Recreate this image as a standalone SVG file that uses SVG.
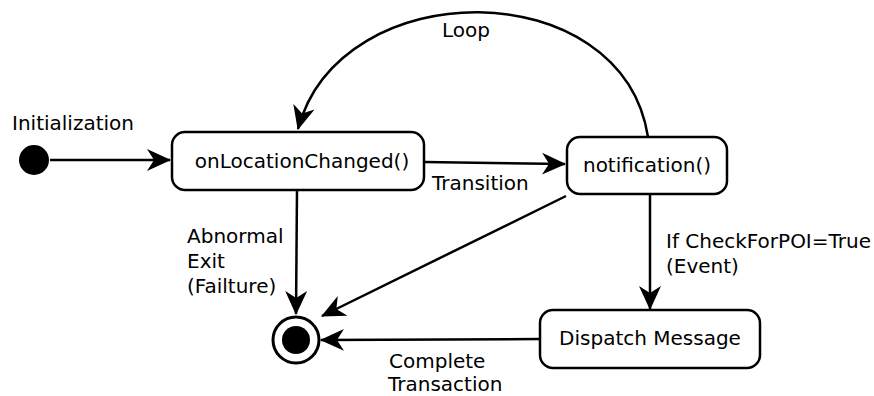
<svg xmlns="http://www.w3.org/2000/svg" width="874" height="396" viewBox="0 0 874 396">
  <style>
    .state { fill: #fff; stroke: #000; stroke-width: 2.5; }
    .edge { fill: none; stroke: #000; stroke-width: 2.5; marker-end: url(#arrow); }
    text { font-family: "DejaVu Sans", "Liberation Sans", sans-serif; font-size: 20px; fill: #000; }
    .mid { text-anchor: middle; }
  </style>
  <defs>
    <marker id="arrow" markerUnits="userSpaceOnUse" markerWidth="26" markerHeight="24" viewBox="0 0 26 24" refX="23" refY="12" orient="auto">
      <path d="M0,1 L24,12 L0,23 L7,12 Z" fill="#000"/>
    </marker>
  </defs>

  <rect width="874" height="396" fill="#fff"/>

  <g id="connectors">
    <line class="edge" x1="50" y1="160" x2="170" y2="160"/>
    <line class="edge" x1="424" y1="162" x2="565" y2="164"/>
    <path class="edge" d="M648,137 C622,-28 340,-28 298,129"/>
    <line class="edge" x1="297" y1="190" x2="296" y2="314"/>
    <line class="edge" x1="566" y1="196" x2="322" y2="316"/>
    <line class="edge" x1="650" y1="194" x2="650" y2="309"/>
    <line class="edge" x1="540" y1="339" x2="321" y2="340"/>
  </g>

  <g id="labels">
    <text x="12" y="130">Initialization</text>
    <text x="442" y="37">Loop</text>
    <text x="432" y="190">Transition</text>
    <text x="187" y="243">Abnormal</text>
    <text x="187" y="268">Exit</text>
    <text x="187" y="293">(Failture)</text>
    <text x="666" y="248">If CheckForPOI=True</text>
    <text x="666" y="273">(Event)</text>
    <text x="389" y="368">Complete</text>
    <text x="388" y="391">Transaction</text>
  </g>

  <g id="initial">
    <circle cx="34" cy="160" r="15" fill="#000"/>
  </g>

  <g id="onLocationChanged">
    <rect class="state" x="172" y="132" width="252" height="58" rx="13"/>
    <text class="mid" x="302" y="168">onLocationChanged()</text>
  </g>

  <g id="notification">
    <rect class="state" x="567" y="137" width="160" height="57" rx="13"/>
    <text class="mid" x="647" y="172">notification()</text>
  </g>

  <g id="dispatch">
    <rect class="state" x="540" y="310" width="220" height="58" rx="13"/>
    <text class="mid" x="650" y="345">Dispatch Message</text>
  </g>

  <g id="final">
    <circle cx="296" cy="340" r="23" fill="#fff" stroke="#000" stroke-width="3"/>
    <circle cx="296" cy="340" r="14" fill="#000"/>
  </g>
</svg>
